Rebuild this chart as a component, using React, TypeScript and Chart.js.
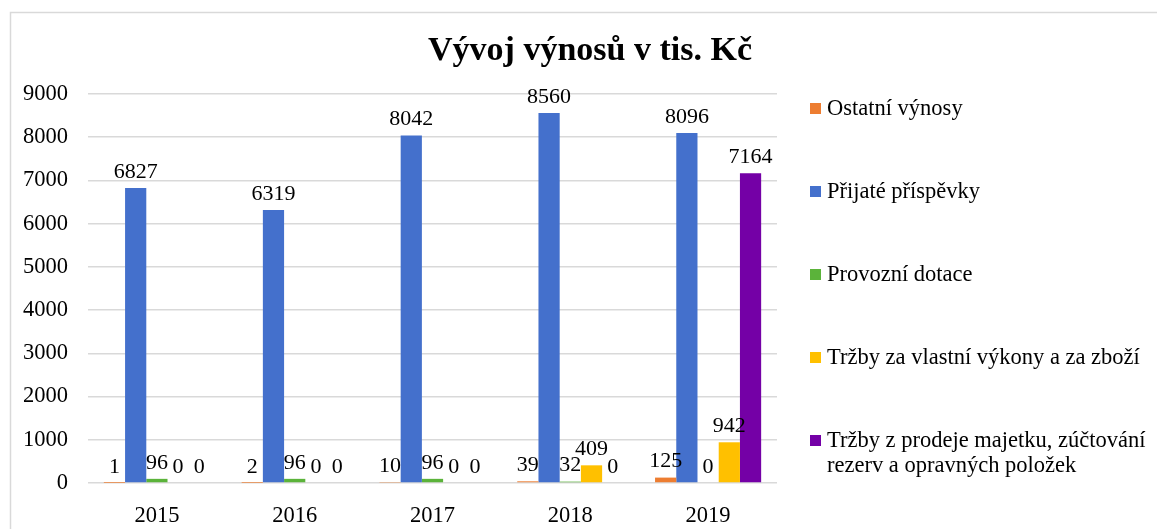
import React, { useEffect, useRef } from "react";
import { Chart, registerables } from "chart.js";

Chart.register(...registerables);

const years = ["2015", "2016", "2017", "2018", "2019"];
const ostatniVynosy = [1, 2, 10, 39, 125];
const prijatePrispevky = [6827, 6319, 8042, 8560, 8096];
const provozniDotace = [96, 96, 96, 32, 0];
const trzbyVykony = [0, 0, 0, 409, 942];
const trzbyMajetek = [0, 0, 0, 0, 7164];

const seriesNames = [
  "Ostatní výnosy",
  "Přijaté příspěvky",
  "Provozní dotace",
  "Tržby za vlastní výkony a za zboží",
  "Tržby z prodeje majetku, zúčtování rezerv a opravných položek",
];
const legendLines = [
  ["Ostatní výnosy"],
  ["Přijaté příspěvky"],
  ["Provozní dotace"],
  ["Tržby za vlastní výkony a za zboží"],
  ["Tržby z prodeje majetku, zúčtování", "rezerv a opravných položek"],
];
const seriesColors = ["#ED7D31", "#4470CC", "#5BB33A", "#FFC000", "#7400A6"];
const titleText = "Vývoj výnosů v tis. Kč";
const yMin = 0;
const yMax = 9000;
const yStep = 1000;

const FONT = '"Liberation Serif", "Times New Roman", serif';

const decorPlugin = {
  id: "decor",
  beforeDraw(chart: any) {
    const ctx = chart.ctx;
    ctx.save();
    ctx.fillStyle = "#ffffff";
    ctx.fillRect(0, 0, chart.width, chart.height);
    ctx.strokeStyle = "#d9d9d9";
    ctx.lineWidth = 1.5;
    ctx.strokeRect(10.5, 12.5, chart.width + 20, chart.height + 20);
    ctx.restore();
  },
  afterDraw(chart: any) {
    const ctx = chart.ctx;
    ctx.save();
    // title
    ctx.fillStyle = "#000000";
    ctx.font = `bold 34px ${FONT}`;
    ctx.textAlign = "center";
    ctx.textBaseline = "middle";
    ctx.fillText(titleText, 590, 51);
    // legend
    const startY = 109;
    const stepY = 83;
    ctx.font = `22.5px ${FONT}`;
    ctx.textAlign = "left";
    legendLines.forEach((lines, i) => {
      const y = startY + i * stepY;
      ctx.fillStyle = seriesColors[i];
      ctx.fillRect(810, y - 6, 11, 11);
      ctx.fillStyle = "#000000";
      lines.forEach((ln, j) => {
        ctx.fillText(ln, 827, y + j * 25);
      });
    });
    ctx.restore();
  },
  afterDatasetsDraw(chart: any) {
    const ctx = chart.ctx;
    ctx.save();
    ctx.fillStyle = "#000000";
    ctx.font = `22px ${FONT}`;
    ctx.textAlign = "center";
    ctx.textBaseline = "bottom";
    chart.data.datasets.forEach((ds: any, di: number) => {
      const meta = chart.getDatasetMeta(di);
      meta.data.forEach((el: any, i: number) => {
        const v = ds.data[i];
        ctx.fillText(String(v), el.x, el.y - 5);
      });
    });
    ctx.restore();
  },
};

export default function App() {
  const ref = useRef<HTMLCanvasElement | null>(null);
  useEffect(() => {
    if (!ref.current) return;
    const seriesData = [ostatniVynosy, prijatePrispevky, provozniDotace, trzbyVykony, trzbyMajetek];
    const chart = new Chart(ref.current, {
      type: "bar",
      data: {
        labels: years,
        datasets: seriesData.map((d, i) => ({
          label: seriesNames[i],
          data: d,
          backgroundColor: seriesColors[i],
          borderWidth: 0,
          barPercentage: 1,
          categoryPercentage: 0.77,
        })),
      },
      options: {
        responsive: false,
        animation: false,
        events: [],
        layout: { padding: { top: 94, right: 380, bottom: 0, left: 0 } },
        plugins: {
          legend: { display: false },
          title: { display: false },
          tooltip: { enabled: false },
        },
        scales: {
          x: {
            grid: { display: false, drawTicks: false },
            border: { display: false },
            ticks: {
              color: "#000000",
              font: { family: FONT, size: 22.5 },
              padding: 20,
            },
            afterFit(scale: any) {
              scale.height = 46;
            },
          },
          y: {
            min: yMin,
            max: yMax,
            grid: { color: "#d9d9d9", lineWidth: 1.5, drawTicks: false },
            border: { display: false },
            ticks: {
              stepSize: yStep,
              color: "#000000",
              font: { family: FONT, size: 22.5 },
              padding: 20,
              callback: (v: any) => String(v),
            },
            afterFit(scale: any) {
              scale.width = 88;
            },
          },
        },
      },
      plugins: [decorPlugin],
    } as any);
    return () => chart.destroy();
  }, []);
  return (
    <div style={{ position: "fixed", left: 0, top: 0, width: 1157, height: 529, background: "#fff" }}>
      <canvas ref={ref} width={1157} height={529} style={{ width: 1157, height: 529, display: "block" }} />
    </div>
  );
}
